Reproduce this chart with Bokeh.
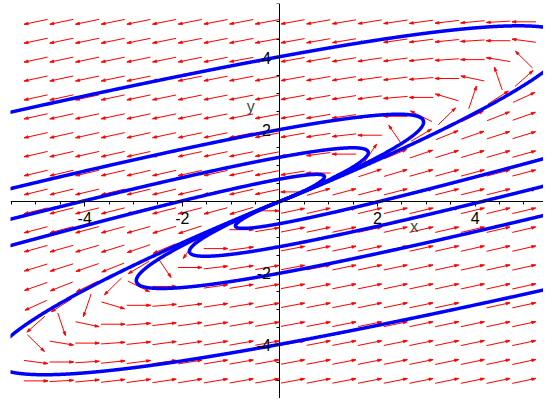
import numpy as np
from bokeh.plotting import figure
from bokeh.models import Range1d, FixedTicker, Label
from bokeh.embed import file_html
from bokeh.resources import INLINE

# ---- view window (data units) ----
x_view = [-5.52, 5.40]
y_view = [-5.49, 5.51]

# ---- linear system:  x' = 3x - 4y ,  y' = x - y ----
coef_x = [3.0, -4.0]
coef_y = [1.0, -1.0]

# ---- direction-field grid (20 x 20 arrows over -5..5) ----
field_x_limits = [-5.0, 5.0]
field_y_limits = [-5.0, 5.0]
field_count = 20

# ---- solution curves: where each one crosses the y-axis ----
curve_x0 = [0.0, 0.0, 0.0, 0.0, 0.0, 0.0, 0.0, 0.0]
curve_y0 = [4.03, 2.0, 1.23, 0.62, -0.62, -1.26, -2.0, -3.98]

# ---- axis ticks ----
x_ticks = [-4, -2, 2, 4]
y_ticks = [-4, -2, 2, 4]
tick_text = {-4: "-4", -2: "-2", 2: "2", 4: "4"}
x_minor = [-5.5, -5, -4.5, -3.5, -3, -2.5, -1.5, -1, -0.5, 0.5, 1, 1.5, 2.5, 3, 3.5, 4.5, 5]
y_minor = [-5, -4.5, -3.5, -3, -2.5, -1.5, -1, -0.5, 0.5, 1, 1.5, 2.5, 3, 3.5, 4.5, 5, 5.5]

W, H = 543, 398
PAD_L, PAD_T = 10, 3
FW, FH = W - PAD_L, H - PAD_T
sx = FW / (x_view[1] - x_view[0])
sy = FH / (y_view[1] - y_view[0])


def field(x, y):
    return coef_x[0] * x + coef_x[1] * y, coef_y[0] * x + coef_y[1] * y


def unit(x, y):
    u, v = field(x, y)
    n = np.hypot(u, v)
    if n < 1e-12:
        return 0.0, 0.0
    return u / n, v / n


def integrate(x0, y0, sign, ds=0.012, nmax=5000):
    xs, ys = [x0], [y0]
    x, y = x0, y0
    for _ in range(nmax):
        k1 = unit(x, y)
        k2 = unit(x + 0.5 * ds * sign * k1[0], y + 0.5 * ds * sign * k1[1])
        k3 = unit(x + 0.5 * ds * sign * k2[0], y + 0.5 * ds * sign * k2[1])
        k4 = unit(x + ds * sign * k3[0], y + ds * sign * k3[1])
        x += ds * sign * (k1[0] + 2 * k2[0] + 2 * k3[0] + k4[0]) / 6
        y += ds * sign * (k1[1] + 2 * k2[1] + 2 * k3[1] + k4[1]) / 6
        xs.append(x)
        ys.append(y)
        if abs(x) > 8 or abs(y) > 8 or np.hypot(x, y) < 0.01:
            break
    return xs, ys


p = figure(width=W, height=H, x_range=Range1d(*x_view), y_range=Range1d(*y_view),
           output_backend="svg", toolbar_location=None,
           min_border_left=PAD_L, min_border_top=PAD_T, min_border_right=0, min_border_bottom=0)
p.xgrid.visible = False
p.ygrid.visible = False
p.outline_line_color = None
p.background_fill_color = "white"
p.border_fill_color = "white"

# ---- direction field arrows ----
gx = np.linspace(field_x_limits[0], field_x_limits[1], field_count)
gy = np.linspace(field_y_limits[0], field_y_limits[1], field_count)
L, HL, HW = 24.0, 4.0, 1.3
x0s, y0s, x1s, y1s, hx, hy = [], [], [], [], [], []
for X in gx:
    for Y in gy:
        u, v = field(X, Y)
        ex, ey = u * sx, v * sy
        n = np.hypot(ex, ey)
        ex, ey = ex / n, ey / n
        tx, ty = X + ex * L / 2 / sx, Y + ey * L / 2 / sy
        x0s.append(X - ex * L / 2 / sx)
        y0s.append(Y - ey * L / 2 / sy)
        x1s.append(tx)
        y1s.append(ty)
        bx, by = tx - ex * HL / sx, ty - ey * HL / sy
        px_, py_ = -ey, ex
        hx.append([tx, bx + px_ * HW / sx, bx - px_ * HW / sx])
        hy.append([ty, by + py_ * HW / sy, by - py_ * HW / sy])
p.segment(x0s, y0s, x1s, y1s, line_color="#FF0000", line_width=1)
p.patches(hx, hy, fill_color="#FF0000", line_color="#FF0000", line_width=0.8)

# ---- solution curves ----
for X0, Y0 in zip(curve_x0, curve_y0):
    bx_, by_ = integrate(X0, Y0, -1)
    fx_, fy_ = integrate(X0, Y0, 1)
    xs = bx_[::-1] + fx_[1:]
    ys = by_[::-1] + fy_[1:]
    p.line(xs, ys, line_color="#0000FF", line_width=3.5)

# ---- axes through the origin ----
for ax, ticks, minor in ((p.xaxis, x_ticks, x_minor), (p.yaxis, y_ticks, y_minor)):
    ax.fixed_location = 0
    ax.ticker = FixedTicker(ticks=ticks, minor_ticks=minor)
    ax.major_label_overrides = tick_text
    ax.axis_line_color = "black"
    ax.axis_line_width = 1
    ax.major_tick_in = 0
    ax.major_tick_out = 5
    ax.minor_tick_in = 0
    ax.minor_tick_out = 3
    ax.major_tick_line_color = "black"
    ax.minor_tick_line_color = "black"
    ax.major_label_text_font = "Liberation Sans"
    ax.major_label_text_font_size = "16px"
    ax.major_label_text_color = "black"
p.xaxis.major_label_standoff = 6
p.yaxis.major_label_standoff = 4

p.add_layout(Label(x=2.75, y=-0.70, text="x", text_font="Liberation Sans", text_font_size="16px",
                   text_align="center", text_baseline="middle"))
p.add_layout(Label(x=-0.60, y=2.65, text="y", text_font="Liberation Sans", text_font_size="16px",
                   text_align="center", text_baseline="middle"))

open("out.html", "w").write(file_html(p, INLINE))
